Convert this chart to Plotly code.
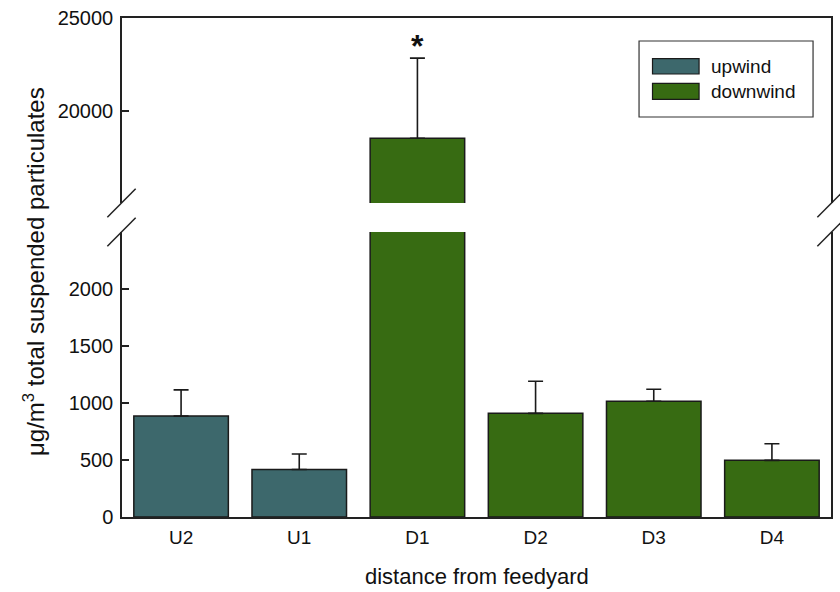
import plotly.graph_objects as go

# Total suspended particulates by site (mean and standard error, µg/m³)
categories = ["U2", "U1", "D1", "D2", "D3", "D4"]
upwind_sites = ["U2", "U1"]
upwind_tsp = [885, 417]
upwind_se = [230, 136]
downwind_sites = ["D1", "D2", "D3", "D4"]
downwind_tsp = [18500, 909, 1015, 497]
downwind_se = [4330, 282, 106, 145]
significant_sites = ["D1"]

lower_ticks = [0, 500, 1000, 1500, 2000]
upper_ticks = [20000, 25000]
lower_range = [0, 2500]
upper_range = [15000, 25000]

UP_COLOR = "#3D686C"
DOWN_COLOR = "#376B12"
EDGE = "#1a1a1a"
AXIS = "#222222"
FONT = "Liberation Sans, Arial, sans-serif"

W, H = 840, 592
ML, MR, MT, MB = 122, 7, 18, 75
PW, PH = W - ML - MR, H - MT - MB


def px(x):
    return (x - ML) / PW


def py(y):
    return (H - MB - y) / PH


lower_domain = [0, py(232)]
upper_domain = [py(203), 1]

fig = go.Figure()


def add_bars(xa, ya):
    for sites, vals, se, color, name in [
        (upwind_sites, upwind_tsp, upwind_se, UP_COLOR, "upwind"),
        (downwind_sites, downwind_tsp, downwind_se, DOWN_COLOR, "downwind"),
    ]:
        fig.add_trace(go.Bar(
            x=sites, y=vals, name=name, width=0.8,
            marker=dict(color=color, line=dict(color=EDGE, width=1.5)),
            error_y=dict(type="data", array=se, arrayminus=[0] * len(se),
                         symmetric=False, color=EDGE, thickness=1.6, width=7.5),
            xaxis=xa, yaxis=ya, showlegend=False,
        ))


add_bars("x", "y")
add_bars("x2", "y2")

axis_common = dict(showgrid=False, zeroline=False, linecolor=AXIS, linewidth=1.5)
ytick_font = dict(family=FONT, size=20, color="#111")
xtick_font = dict(family=FONT, size=19, color="#111")

fig.update_layout(
    width=W, height=H,
    margin=dict(l=ML, r=MR, t=MT, b=MB),
    paper_bgcolor="white", plot_bgcolor="white",
    barmode="overlay",
    showlegend=False,
    font=dict(family=FONT, color="#111"),
    xaxis=dict(axis_common, type="category", categoryorder="array",
               categoryarray=categories, range=[-0.5, 5.5], anchor="y",
               showline=True, ticks="", ticklabelstandoff=2,
               tickfont=xtick_font),
    xaxis2=dict(axis_common, type="category", categoryorder="array",
                categoryarray=categories, range=[-0.5, 5.5], anchor="y2",
                matches="x", side="top", showline=True, ticks="",
                showticklabels=False),
    yaxis=dict(axis_common, domain=lower_domain, range=lower_range,
               tickvals=lower_ticks, tickformat="d", showline=True, mirror=True,
               ticks="inside", ticklen=7, tickwidth=1.5, tickcolor=AXIS,
               ticklabelstandoff=3, tickfont=ytick_font),
    yaxis2=dict(axis_common, domain=upper_domain, range=upper_range,
                tickvals=upper_ticks, tickformat="d", showline=True, mirror=True,
                ticks="inside", ticklen=7, tickwidth=1.5, tickcolor=AXIS,
                ticklabelstandoff=3, tickfont=ytick_font),
)

shapes = []
# axis break marks on both sides
for xc in (121.5, 833.5):
    for yc in (203, 232):
        shapes.append(dict(type="line", xref="paper", yref="paper",
                           x0=px(xc - 14.2), y0=py(yc + 14.2),
                           x1=px(xc + 14.2), y1=py(yc - 14.2),
                           line=dict(color=AXIS, width=1.5)))

# legend box and swatches
shapes.append(dict(type="rect", xref="paper", yref="paper",
                   x0=px(640.5), x1=px(815), y0=py(117), y1=py(41),
                   line=dict(color="#333", width=1.2), fillcolor="white"))
legend_items = [("upwind", UP_COLOR, 58.7, 74), ("downwind", DOWN_COLOR, 83.4, 99.3)]
annotations = []
for label, color, top, bot in legend_items:
    shapes.append(dict(type="rect", xref="paper", yref="paper",
                       x0=px(654), x1=px(700.7), y0=py(bot), y1=py(top),
                       line=dict(color=EDGE, width=1.2), fillcolor=color))
    annotations.append(dict(xref="paper", yref="paper", x=px(711),
                            y=py((top + bot) / 2), text=label, showarrow=False,
                            xanchor="left", yanchor="middle",
                            font=dict(family=FONT, size=19, color="#111")))

# significance marker above the error bar
for site in significant_sites:
    i = downwind_sites.index(site)
    annotations.append(dict(x=site, y=downwind_tsp[i] + downwind_se[i],
                            xref="x2", yref="y2", text="<b>*</b>",
                            showarrow=False, yanchor="bottom", yshift=-8,
                            font=dict(family=FONT, size=32, color="#111")))

# axis titles
annotations.append(dict(xref="paper", yref="paper", x=0, xshift=34 - ML,
                        y=py(272), text="μg/m<sup>3</sup> total suspended particulates",
                        textangle=-90, showarrow=False, xanchor="center",
                        yanchor="middle", font=dict(family=FONT, size=24, color="#111")))
annotations.append(dict(xref="paper", yref="paper", x=0.5, y=py(576),
                        text="distance from feedyard", showarrow=False,
                        xanchor="center", yanchor="middle",
                        font=dict(family=FONT, size=22, color="#111")))

fig.update_layout(shapes=shapes, annotations=annotations)
fig.write_html("out.html")
